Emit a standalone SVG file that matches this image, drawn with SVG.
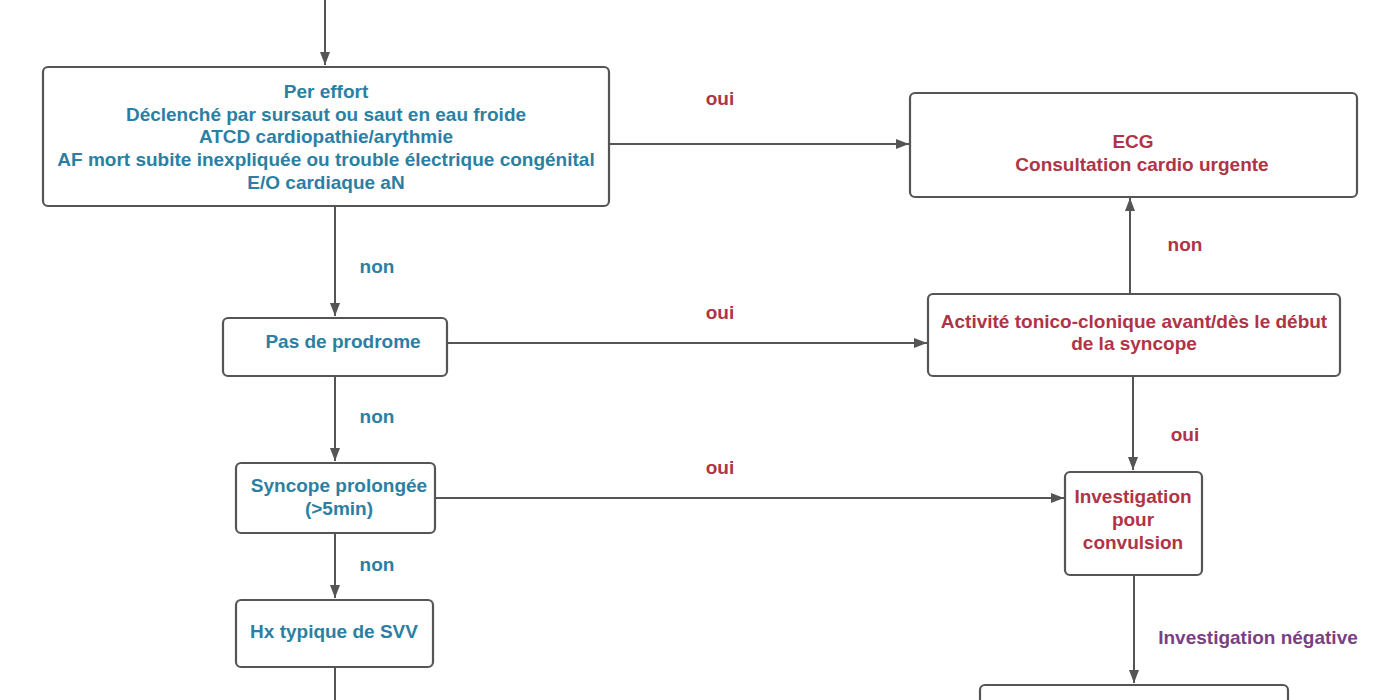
<svg xmlns="http://www.w3.org/2000/svg" width="1400" height="700" viewBox="0 0 1400 700">
<defs>
<marker id="ah" viewBox="0 0 13 10" refX="13" refY="5" markerWidth="13" markerHeight="10" markerUnits="userSpaceOnUse" orient="auto">
<path d="M0,0 L13,5 L0,10 z" fill="#555"/>
</marker>
<style>
.box{fill:#fff;stroke:#555;stroke-width:2.2}
.t{font-family:"Liberation Sans",Arial,sans-serif;font-weight:bold;font-size:19px;text-anchor:middle}
.b{fill:#2b7fa3}
.r{fill:#b03446}
.p{fill:#7a3f82}
.c{fill:none;stroke:#555;stroke-width:2;marker-end:url(#ah)}
.l{fill:none;stroke:#555;stroke-width:2}
</style>
</defs>
<rect width="1400" height="700" fill="#fff"/>
<g id="connectors">
<path class="c" d="M325,0 V65"/>
<path class="c" d="M609,144 H909"/>
<path class="c" d="M335,207 V316"/>
<path class="c" d="M447,343 H927"/>
<path class="c" d="M1130,294 V198"/>
<path class="c" d="M335,376 V461"/>
<path class="c" d="M435,498 H1064"/>
<path class="c" d="M1133,376 V470"/>
<path class="c" d="M335,533 V598"/>
<path class="l" d="M335,667 V700"/>
<path class="c" d="M1134,575 V683"/>
<text class="t r" x="720" y="105">oui</text>
<text class="t b" x="377" y="273">non</text>
<text class="t r" x="720" y="319">oui</text>
<text class="t r" x="1185" y="251">non</text>
<text class="t b" x="377" y="423">non</text>
<text class="t r" x="720" y="474">oui</text>
<text class="t r" x="1185" y="441">oui</text>
<text class="t b" x="377" y="571">non</text>
<text class="t p" x="1258" y="644">Investigation négative</text>
</g>
<g id="n1">
<rect class="box" x="43" y="67" width="566" height="139" rx="5"/>
<text class="t b" x="326" y="98">Per effort</text>
<text class="t b" x="326" y="121">Déclenché par sursaut ou saut en eau froide</text>
<text class="t b" x="326" y="143">ATCD cardiopathie/arythmie</text>
<text class="t b" x="326" y="166">AF mort subite inexpliquée ou trouble électrique congénital</text>
<text class="t b" x="326" y="189">E/O cardiaque aN</text>
</g>
<g id="ecg">
<rect class="box" x="910" y="93" width="447" height="104" rx="5"/>
<text class="t r" x="1133" y="148">ECG</text>
<text class="t r" x="1142" y="171">Consultation cardio urgente</text>
</g>
<g id="prodrome">
<rect class="box" x="223" y="318" width="224" height="58" rx="5"/>
<text class="t b" x="343" y="348">Pas de prodrome</text>
</g>
<g id="activite">
<rect class="box" x="928" y="294" width="412" height="82" rx="5"/>
<text class="t r" x="1134" y="328">Activité tonico-clonique avant/dès le début</text>
<text class="t r" x="1134" y="350">de la syncope</text>
</g>
<g id="prolongee">
<rect class="box" x="236" y="463" width="199" height="70" rx="5"/>
<text class="t b" x="339" y="492">Syncope prolongée</text>
<text class="t b" x="339" y="515">(&gt;5min)</text>
</g>
<g id="convulsion">
<rect class="box" x="1065" y="472" width="137" height="103" rx="5"/>
<text class="t r" x="1133" y="503">Investigation</text>
<text class="t r" x="1133" y="526">pour</text>
<text class="t r" x="1133" y="549">convulsion</text>
</g>
<g id="svv">
<rect class="box" x="236" y="600" width="197" height="67" rx="5"/>
<text class="t b" x="334" y="638">Hx typique de SVV</text>
</g>
<g id="bottom">
<rect class="box" x="980" y="685" width="308" height="40" rx="5"/>
</g>
</svg>
